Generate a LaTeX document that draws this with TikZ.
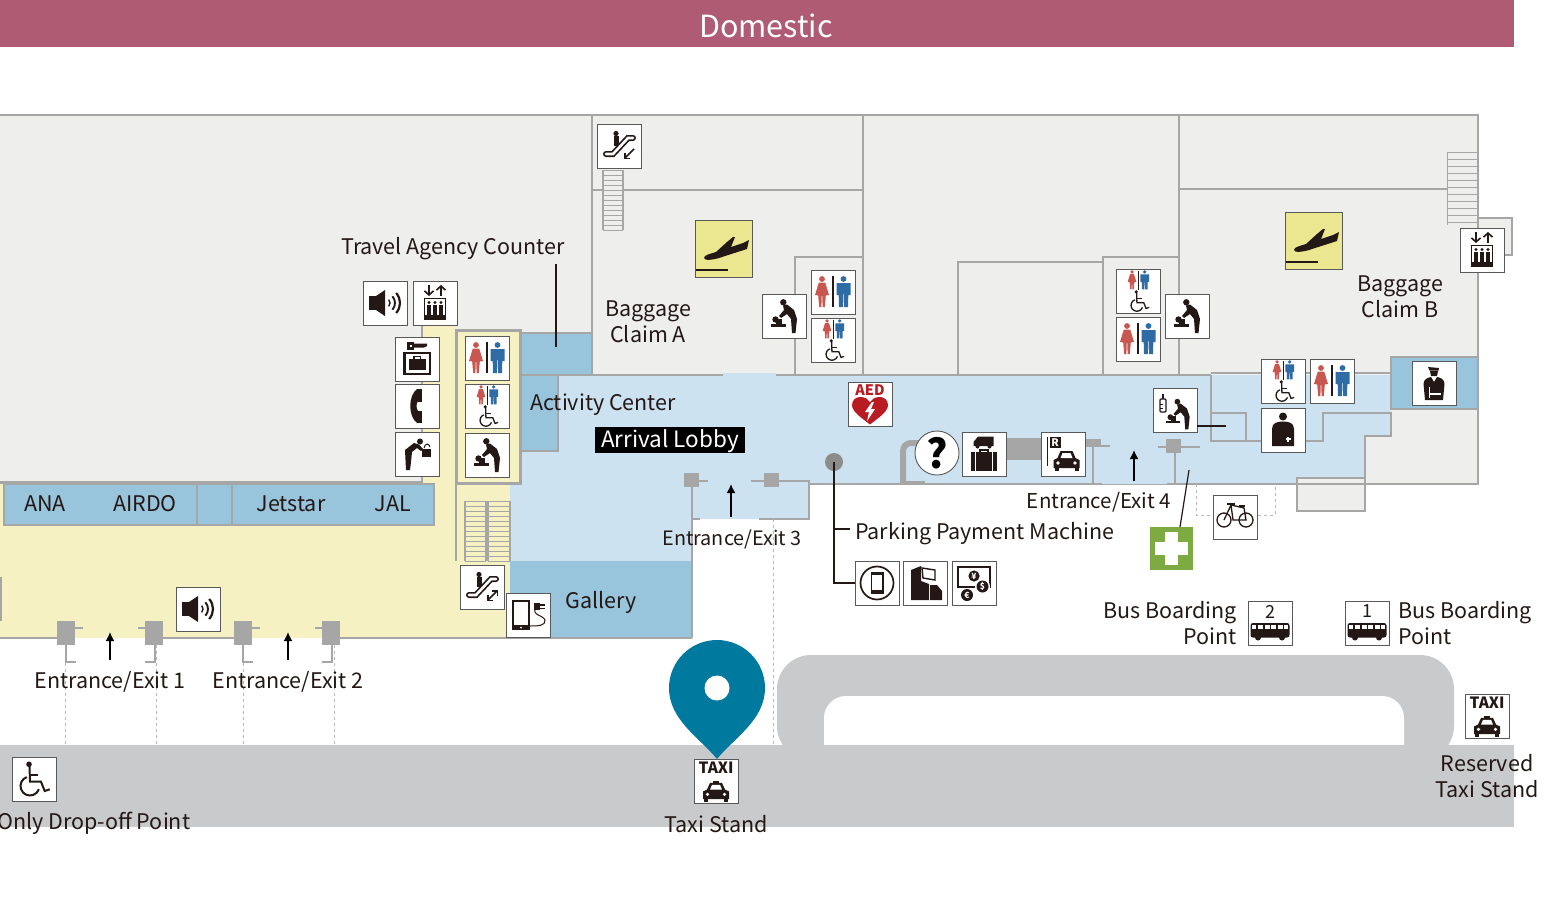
\documentclass[tikz,border=0pt]{standalone}
\usepackage{fontspec}
\setmainfont{Noto Sans CJK JP}
\usetikzlibrary{arrows.meta}
\definecolor{titlerose}{HTML}{AE5B73}
\definecolor{roomgrey}{HTML}{EEEEEC}
\definecolor{wallgrey}{HTML}{A6A6A6}
\definecolor{hallyellow}{HTML}{F5F1C2}
\definecolor{lobbyblue}{HTML}{CCE2F0}
\definecolor{counterblue}{HTML}{98C4DC}
\definecolor{roadgrey}{HTML}{C9CACC}
\definecolor{pinteal}{HTML}{00799E}
\definecolor{aedred}{HTML}{B81C22}
\definecolor{crossgreen}{HTML}{7DAB42}
\definecolor{ladyred}{HTML}{C8584F}
\definecolor{gentblue}{HTML}{2F6BA5}
\definecolor{signyellow}{HTML}{EBE690}
\definecolor{signink}{HTML}{231815}
\tikzset{
  wall/.style={draw=wallgrey,line width=2.4pt},
  thinwall/.style={draw=wallgrey,line width=1.5pt},
  dashline/.style={draw=wallgrey!80,line width=0.8pt,dashed},
  leader/.style={draw=signink,line width=1.2pt},
  exitarrow/.style={draw=black,line width=1.6pt,-{Latex[length=9pt,width=9pt]}},
  signarrow/.style={draw=signink,line width=1.6pt,-{Straight Barb[length=4pt,width=9pt]}},
  place/.style={font=\fontsize{21.5}{26}\selectfont,align=center,inner sep=0pt,text=signink},
  oneline/.style={place,text height=17pt,text depth=2pt},
  iconbox/.style={draw=black!65,line width=0.9pt,fill=white,minimum size=44pt,inner sep=0pt},
  wheelline/.style={line width=2pt},
  ladyfig/.pic={
    \fill[ladyred] (0,-13) circle (2.9);
    \fill[ladyred] (-3.2,-9.5)--(3.2,-9.5)--(7,3)--(3.8,3.5)--(2.8,15)--(0.6,15)--(0.3,4)--(-0.3,4)--(-0.6,15)--(-2.8,15)--(-3.8,3.5)--(-7,3)--cycle;
  },
  gentfig/.pic={
    \fill[gentblue] (0,-13) circle (2.9);
    \fill[gentblue] (-7,-9)--(7,-9)--(7,3)--(5,3)--(5,-4)--(4.5,15)--(0.6,15)--(0.3,2)--(-0.3,2)--(-0.6,15)--(-4.5,15)--(-5,-4)--(-5,3)--(-7,3)--cycle;
  },
  wheelfig/.pic={
    \fill[signink] (-5,-14.7) circle (2.8);
    \draw[signink,wheelline] (-4.5,-13) -- (-4,2.7) -- (7,2.7) -- (10.7,12) -- (15.7,10.3);
    \draw[signink,wheelline] (-4,-4) -- (4,-4);
    \draw[signink,wheelline] (-7.25,-1.93) arc[start angle=250,end angle=20,radius=9.5];
  },
  toiletsign/.pic={
    \pic at (-11,0) {ladyfig};
    \pic at (10.5,0) {gentfig};
    \fill[signink] (-1,-16) rectangle (1,15);
  },
  accesssign/.pic={
    \pic[scale=0.62] at (-6,-11) {ladyfig};
    \pic[scale=0.62] at (6.7,-11) {gentfig};
    \fill[signink] (-0.5,-20) rectangle (0.5,-1);
    \pic[scale=0.62,wheelline/.style={line width=1.3pt}] at (1.4,10) {wheelfig};
  },
  babysign/.pic={
    \fill[signink] (-0.7,-13.7) circle (3.2);
    \fill[signink] (-1,-10.5)--(3,-11.5)--(10,-6)--(13,3)--(11.5,17)--(8,17)--(7,3)--(3,-2)--(-3,2)--(-5,0)--(0,-6)--cycle;
    \fill[signink] (-8.5,3.5) circle (3.2);
    \fill[signink] (-8,2.5) rectangle (-2,7.5);
    \fill[signink] (-13.5,7.5) rectangle (2,10.5);
  },
  bottlesign/.pic={
    \pic[scale=0.9] at (3,4) {babysign};
    \draw[signink,line width=1.2pt,fill=white,rounded corners=1pt] (-15,-11) rectangle (-9,2);
    \fill[signink] (-13,-16) rectangle (-11,-11);
    \fill[signink] (-15,-6) rectangle (-12,-5);
    \fill[signink] (-15,-2) rectangle (-12,-1);
  },
  speakersign/.pic={
    \fill[signink] (-16,-7) rectangle (-9,7);
    \fill[signink] (-9,-7)--(0,-13)--(0,13)--(-9,7)--cycle;
    \foreach \r/\w in {5/1.4,10/1.9,15/2.2} {
      \draw[signink,line width=\w pt] (0,0) ++(-42:\r) arc[start angle=-42,end angle=42,radius=\r];
    }
  },
  liftsign/.pic={
    \draw[signarrow] (-6,-18) -- (-6,-7);
    \draw[signarrow] (6,-7) -- (6,-18);
    \draw[signink,line width=1.8pt] (-10.5,-4.5) rectangle (10.5,16);
    \foreach \x in {-6,0,6} {
      \fill[signink] (\x,-0.5) circle (1.7);
      \fill[signink] (\x-2.4,1.5) rectangle (\x+2.4,12);
    }
    \fill[signink] (-10,12) rectangle (10,16);
  },
  lockersign/.pic={
    \fill[signink] (-10,-17) rectangle (-3,-9.5);
    \fill[signink] (-3,-15.5) -- (10,-15.5) -- (10,-13) -- (7,-11.5) -- (-3,-11.5) -- cycle;
    \fill[white] (-7.5,-14.5) rectangle (-5.5,-12);
    \draw[signink,line width=2.2pt] (-12.5,-6) rectangle (13,15);
    \fill[signink] (-8,0) rectangle (8.5,11);
    \draw[signink,line width=1.2pt] (-3,0) -- (-3,-2.5) -- (3.5,-2.5) -- (3.5,0);
  },
  phonesign/.pic={
    \fill[signink] (0,-17) .. controls (-9,-10) and (-9,10) .. (0,17) -- (1,5) .. controls (-1,2) and (-1,-2) .. (1,-5) -- cycle;
    \fill[signink] (-0.3,-17) rectangle (4.5,-4);
    \fill[signink] (-0.3,5) rectangle (4.5,17);
  },
  fountainsign/.pic={
    \fill[signink] (3,-12.5) circle (3);
    \fill[signink] (-12,-4)--(-3,-11)--(2,-9.5)--(6,-5)--(4,-3)--(0,-6)--(-5,-2)--(-6,8)--(-7,16)--(-11,16)--cycle;
    \fill[signink] (5,-5) rectangle (14,3);
    \draw[signink,line width=1pt] (7,-6) .. controls (8,-11) and (12,-11) .. (13,-7);
  },
  escalatorsign/.pic={
    \fill[signink] (-3,-12.5) circle (2.6);
    \fill[signink] (-5.5,-10) rectangle (0,0);
    \draw[signink,line width=6pt,line cap=round] (-13,8) -- (-6,8) -- (9,-8) -- (14,-8);
    \draw[white,line width=2.6pt,line cap=round] (-13,8) -- (-6,8) -- (9,-8) -- (14,-8);
  },
  escbothsign/.pic={
    \pic {escalatorsign};
    \draw[signink,line width=1.5pt,{Straight Barb[length=4pt,width=8pt]}-{Straight Barb[length=4pt,width=8pt]}] (5,14) -- (16,3);
  },
  escdownsign/.pic={
    \pic {escalatorsign};
    \draw[signink,line width=1.5pt,-{Straight Barb[length=4pt,width=8pt]}] (15,3) -- (5,13);
  },
  chargesign/.pic={
    \draw[signink,line width=2.4pt,fill=white] (-15,-14) rectangle (1,14);
    \fill[signink] (-15,10) rectangle (1,15);
    \fill[white] (-7,12.5) circle (1);
    \draw[signink,line width=1pt] (8,-7) .. controls (3,0) and (15,0) .. (17,5) .. controls (18,11) and (9,11) .. (2,11);
    \fill[signink] (6,-12) rectangle (12,-5);
    \fill[signink] (12,-11) rectangle (17,-9.5);
    \fill[signink] (12,-7.5) rectangle (17,-6);
  },
  arrivalsign/.pic={
    \fill[signink] (-20,9) .. controls (-20,6) and (-14,5) .. (-8,3) -- (3,-7) -- (9,-12) -- (11,-12) -- (7,-2) -- (19,-6) -- (25,-9) -- (23,0) -- (-2,8) .. controls (-10,11) and (-20,12) .. (-20,9) -- cycle;
    \fill[signink] (-28.5,19.5) rectangle (4,22);
  },
  aedsign/.pic={
    \node[font=\bfseries\fontsize{14.5}{15}\selectfont,text=aedred,inner sep=0pt] (aedtext) at (0,-14) {AED};
    \fill[aedred] (0,20.5) .. controls (-8,14) and (-18,8) .. (-18,1) .. controls (-18,-4) and (-14,-7) .. (-10,-7) .. controls (-5,-7) and (-2,-5) .. (0,-2) .. controls (2,-5) and (5,-7) .. (10,-7) .. controls (14,-7) and (18,-4) .. (18,1) .. controls (18,8) and (8,14) .. (0,20.5) -- cycle;
    \fill[white] (2,-2)--(-5,8)--(-1,8)--(-3,17)--(5,5)--(1,5)--(4,-2)--cycle;
  },
  carfig/.pic={
    \fill[signink] (-13,9)--(-13,1)--(-9,-1)--(-6,-8)--(6,-8)--(9,-1)--(13,1)--(13,9)--cycle;
    \fill[white] (-4,-6)--(4,-6)--(6,-1)--(-6,-1)--cycle;
    \fill[signink] (-12,9) rectangle (-8,12);
    \fill[signink] (8,9) rectangle (12,12);
    \fill[white] (-8.5,4) circle (1.8);
    \fill[white] (8.5,4) circle (1.8);
  },
  baggagesign/.pic={
    \fill[signink] (-10.5,-8)--(-10.5,-12)--(-6,-17.5)--(9.5,-17.5)--(9.5,-8)--cycle;
    \fill[signink] (-6.5,-7.5) circle (2);
    \fill[signink] (5.5,-7.5) circle (2);
    \draw[signink,line width=1.4pt] (-4,-0.5) -- (-4,-4) -- (4,-4) -- (4,-0.5);
    \fill[signink] (-13,-2) rectangle (13,17);
    \foreach \x in {-8.5,8.5} {\fill[white] (\x-0.6,-2) rectangle (\x+0.6,17);}
  },
  parkingsign/.pic={
    \fill[signink] (-15.8,-17) rectangle (-14.8,12);
    \fill[signink] (-13.5,-17) rectangle (-2.5,-6.5);
    \node[font=\bfseries\fontsize{10.5}{11}\selectfont,text=white,inner sep=0pt] (parkr) at (-8,-11.7) {R};
    \pic at (3.5,5) {carfig};
  },
  mobilesign/.pic={
    \draw[signink,line width=1.7pt] (0,0) circle (16.5);
    \fill[signink] (-6.5,-11) rectangle (6.5,11);
    \fill[white] (-5,-8.5) rectangle (5,7);
  },
  atmsign/.pic={
    \fill[signink] (-14,-13)--(-4,-17)--(-4,-2)--(4,1)--(4,17)--(-14,17)--cycle;
    \draw[signink,line width=1.4pt] (-3,-15)--(10,-13)--(10,-3)--(-2,-5)--cycle;
    \fill[signink] (5,2)--(12,2)--(17,8)--(17,17)--(5,17)--cycle;
  },
  changesign/.pic={
    \draw[signink,line width=1.7pt] (-16,-16) rectangle (16,4);
    \fill[signink] (0,-7) circle (5.6);
    \fill[white] (8.5,3.5) circle (7.5);
    \fill[signink] (8.5,3.5) circle (6);
    \fill[signink] (-7,12) circle (6);
    \node[font=\bfseries\fontsize{8.5}{9}\selectfont,text=white,inner sep=0pt] (yen) at (0,-7) {¥};
    \node[font=\bfseries\fontsize{8.5}{9}\selectfont,text=white,inner sep=0pt] (dollar) at (8.5,3.5) {\$};
    \node[font=\bfseries\fontsize{8.5}{9}\selectfont,text=white,inner sep=0pt] (euro) at (-7,12) {€};
  },
  aidsign/.pic={
    \fill[signink] (0,-13.5) circle (4);
    \fill[signink] (-11,16) -- (-11,-1) .. controls (-11,-7) and (-6,-8.5) .. (0,-8.5) .. controls (6,-8.5) and (11,-7) .. (11,-1) -- (11,16) -- cycle;
    \fill[white] (2.5,8) rectangle (7.5,10);
    \fill[white] (4,6.5) rectangle (6,11.5);
  },
  guardsign/.pic={
    \fill[signink] (-6,-16) -- (5,-15) -- (4.5,-12.5) -- (-4.5,-12.5) -- cycle;
    \fill[signink] (-4,-12) -- (4,-12) -- (3,-7) -- (-3,-7) -- cycle;
    \fill[signink] (-10.5,1) .. controls (-10.5,-4) and (-6,-5.5) .. (-3,-6) -- (0,-1) -- (3,-6) .. controls (6,-5.5) and (10.5,-4) .. (10.5,1) -- (9,17) -- (-9,17) -- cycle;
    \fill[white] (-5,9.5) rectangle (7,11.5);
    \draw[white,line width=0.6pt] (-5,4) -- (-5,15);
  },
  bikesign/.pic={
    \draw[signink,line width=1.3pt] (-11,3) circle (7);
    \draw[signink,line width=1.3pt] (11,3) circle (7);
    \draw[signink,line width=1.3pt] (-11,3) -- (-4,-12) -- (9,-9) -- (11,3) -- (-2,3) -- (-4,-12);
    \draw[signink,line width=1.3pt] (-8,-13) -- (0,-13);
    \draw[signink,line width=1.3pt] (4,-11) -- (10,-11);
  },
  busfig/.pic={
    \fill[signink,rounded corners=2.5pt] (-19.5,0) rectangle (19.5,14.5);
    \foreach \x in {-12,-5.5,1,7.5} {\fill[white] (\x,1.5) rectangle (\x+5,6);}
    \fill[white] (-18,2) -- (-14,2) -- (-14,6) -- (-18,6) -- cycle;
    \fill[white] (14,2) rectangle (18,6);
    \fill[signink] (-12,14.5) circle (3);
    \fill[signink] (12,14.5) circle (3);
  },
  taxisign/.pic={
    \node[font=\bfseries\fontsize{15.5}{16}\selectfont,text=signink,inner sep=0pt] (taxitext) at (0,-13) {TAXI};
    \fill[signink] (-3,0) rectangle (3,3);
    \pic[yscale=0.95] at (0,9.5) {carfig};
  },
}
\newcommand{\signbox}[4]{\node[iconbox] (#1) at (#2,#3) {}; \pic at (#1) {#4};}
\newcommand{\stairs}[6]{
  \fill[#6] (#1,#2) rectangle (#3,#4);
  \foreach \y in {#2,\the\numexpr#2+#5\relax,...,#4} {\draw[wallgrey,line width=0.9pt] (#1,\y) -- (#3,\y);}
  \draw[wallgrey,line width=1.2pt] (#1,#2) -- (#1,#4) (#3,#2) -- (#3,#4);
}
\begin{document}
\begin{tikzpicture}[x=1pt,y=-1pt]
  \useasboundingbox (0,0) rectangle (1550,900);
  \fill[titlerose] (0,0) rectangle (1514,47);
  \node[font=\fontsize{30.5}{34}\selectfont,text=white,inner sep=0pt] (domestic) at (766,26) {Domestic};
  % road
  \fill[roadgrey] (0,745) rectangle (1514,827);
  \fill[roadgrey,rounded corners=34pt] (777,760) -- (777,655) -- (1454,655) -- (1454,760) -- cycle;
  \fill[white,rounded corners=22pt] (824,770) -- (824,696) -- (1404,696) -- (1404,770) -- cycle;
  \fill[roadgrey] (770,745) rectangle (1460,790);
  % rooms
  \fill[roomgrey] (1478,218) rectangle (1512,255);
  \draw[wall] (1478,218) -- (1512,218) -- (1512,255) -- (1478,255);
  \draw[wall,fill=roomgrey] (-5,115) -- (1478,115) -- (1478,484) -- (-5,484) -- cycle;
  \fill[hallyellow] (423,325) -- (456,325) -- (456,330) -- (520,330) -- (520,484) -- (510,484) -- (510,638) -- (-5,638) -- (-5,484) -- (423,484) -- cycle;
  \fill[lobbyblue] (521,375) -- (1391,375) -- (1391,436) -- (1365,436) -- (1365,484) -- (809,484) -- (809,519) -- (692,519) -- (692,561) -- (510,561) -- (510,484) -- (521,484) -- cycle;
  \fill[counterblue] (510,561) rectangle (692,638);
  \draw[wall,fill=counterblue] (521,333) rectangle (592,375);
  \draw[wall,fill=counterblue] (521,375) rectangle (558,451);
  \draw[wall,fill=counterblue] (4,484) rectangle (434,525);
  \draw[wall] (197,484) -- (197,525) (232,484) -- (232,525);
  \draw[wall,fill=counterblue] (1391,357) rectangle (1478,409);
  \draw[wall,fill=roomgrey] (1297,478) rectangle (1365,511);
  % walls
  \fill[lobbyblue] (723,373) rectangle (776,377);
  \draw[wall] (522,375) -- (723,375) (776,375) -- (1211,375);
  \draw[wall] (592,115) -- (592,333) (863,115) -- (863,375) (1179,115) -- (1179,375);
  \draw[wall] (592,190) -- (863,190) (1179,189) -- (1447,189);
  \draw[wall] (795,375) -- (795,257) -- (863,257);
  \draw[wall] (958,375) -- (958,262) -- (1103,262) (1103,375) -- (1103,257) -- (1179,257);
  \draw[wall] (422,325) -- (422,484) (-5,482) -- (422,482);
  \draw[line width=3pt,draw=wallgrey] (456,330) rectangle (520,483);
  \draw[wall] (456,483) -- (456,561);
  \draw[wall] (1211,375) -- (1211,441) -- (1323,441) -- (1323,413) -- (1391,413) -- (1391,436) -- (1365,436) -- (1365,484);
  \draw[wall] (1211,373) -- (1391,373);
  \draw[wall] (1211,413) -- (1246,413) -- (1246,441);
  \draw[wall] (692,487) -- (692,638) (-5,638) -- (57,638) (163,638) -- (234,638) (340,638) -- (692,638);
  \draw[wall] (779,481) -- (809,481) -- (809,519) -- (759,519) (692,519) -- (700,519);
  \draw[wall] (809,484) -- (1102,484) (1167,484) -- (1365,484);
  \draw[thinwall,fill=white] (-3,578) -- (1,578) -- (1,620) -- (-3,620);
  \stairs{603}{170}{623}{230}{5}{roomgrey}
  \stairs{465}{501}{486}{561}{5}{hallyellow}
  \stairs{488}{501}{510}{561}{5}{hallyellow}
  \draw[wallgrey,line width=0.9pt] (1447,152) -- (1447,225);
  \foreach \y in {152,159,...,222} {\draw[wallgrey,line width=0.9pt] (1447,\y) -- (1478,\y);}
  % dashed lines
  \foreach \x in {65,156,243,334} {\draw[dashline] (\x,645) -- (\x,745);}
  \draw[dashline] (773,519) -- (773,745);
  \draw[dashline] (1196,484) -- (1196,515) -- (1213,515) (1258,515) -- (1275,515) -- (1275,484);
  % doors
  \foreach \a/\b in {66/154,243/331} {
    \fill[wallgrey] (\a-9,621) rectangle (\a+9,645);
    \fill[wallgrey] (\b-9,621) rectangle (\b+9,645);
    \draw[thinwall] (\a+9,628) -- (\a+17,628) (\b-16,628) -- (\b-9,628);
    \draw[thinwall] (\a,645) -- (\a,662) -- (\a+10,662);
    \draw[thinwall] (\b+1,645) -- (\b+1,662) -- (\b-9,662);
  }
  \fill[wallgrey] (684,473) rectangle (699,487);
  \fill[wallgrey] (764,473) rectangle (779,487);
  \draw[thinwall] (699,481) -- (708,481) (751,481) -- (764,481);
  \fill[wallgrey] (1166,439) rectangle (1181,453);
  \draw[thinwall] (1101,446) -- (1110,446) (1158,447) -- (1200,447);
  \draw[wall] (1093,447) -- (1093,484) (1175,453) -- (1175,484);
  % info counter
  \draw[draw=wallgrey,line width=6pt,rounded corners=8pt] (903,484) -- (903,443) -- (930,443);
  \fill[wallgrey] (901,481) rectangle (925,485);
  \fill[wallgrey] (1000,438) rectangle (1045,460);
  \fill[wallgrey] (1080,439) rectangle (1101,447);
  % signs
  \signbox{speakerA}{385}{303}{speakersign}
  \signbox{liftA}{435}{303}{liftsign}
  \signbox{locker}{417}{359}{lockersign}
  \signbox{telephone}{417}{406}{phonesign}
  \signbox{fountain}{417}{454}{fountainsign}
  \signbox{toiletA}{487}{358}{toiletsign}
  \signbox{accessA}{487}{406}{accesssign}
  \signbox{babyA}{487}{455}{babysign}
  \signbox{escalatorA}{482}{587}{escbothsign}
  \signbox{charging}{528}{615}{chargesign}
  \signbox{speakerB}{198}{609}{speakersign}
  \signbox{escalatorB}{619}{146}{escdownsign}
  \signbox{babyB}{784}{316}{babysign}
  \signbox{toiletB}{833}{292}{toiletsign}
  \signbox{accessB}{833}{340}{accesssign}
  \signbox{accessC}{1138}{291}{accesssign}
  \signbox{toiletC}{1138}{339}{toiletsign}
  \signbox{babyC}{1187}{316}{babysign}
  \signbox{babybottle}{1175}{410}{bottlesign}
  \signbox{accessD}{1283}{381}{accesssign}
  \signbox{toiletD}{1332}{381}{toiletsign}
  \signbox{firstaid}{1283}{430}{aidsign}
  \signbox{guard}{1434}{383}{guardsign}
  \signbox{liftB}{1482}{250}{liftsign}
  \signbox{aed}{870}{404}{aedsign}
  \signbox{baggage}{984}{454}{baggagesign}
  \signbox{parking}{1063}{454}{parkingsign}
  \signbox{mobilepay}{877}{583}{mobilesign}
  \signbox{paymachine}{925}{583}{atmsign}
  \signbox{exchange}{974}{583}{changesign}
  \signbox{bicycle}{1235}{517}{bikesign}
  \signbox{taxiA}{716}{781}{taxisign}
  \signbox{taxiB}{1487}{716}{taxisign}
  \signbox{dropoff}{34}{779}{wheelfig}
  \node[iconbox,fill=signyellow,minimum size=57pt] (arrivalA) at (724,249) {};
  \pic at (arrivalA) {arrivalsign};
  \node[iconbox,fill=signyellow,minimum size=57pt] (arrivalB) at (1314,241) {};
  \pic at (arrivalB) {arrivalsign};
  \node[iconbox,circle,minimum size=44pt,font=\bfseries\fontsize{40}{40}\selectfont] (infodesk) at (937,453) {?};
  \signbox{busB}{1270}{623}{busfig}
  \node[font=\fontsize{18}{18}\selectfont,inner sep=0pt,text=signink] (busBnum) at (1270,611.5) {2};
  \signbox{busA}{1367}{623}{busfig}
  \node[font=\fontsize{18}{18}\selectfont,inner sep=0pt,text=signink] (busAnum) at (1367,611.5) {1};
  \node[minimum size=43pt,inner sep=0pt,fill=crossgreen] (greencross) at (1171,548) {};
  \fill[white] (1155,542) rectangle (1188,555);
  \fill[white] (1165,532) rectangle (1178,565);
  % map pin
  \fill[pinteal] (717,759) .. controls (700,738) and (669,720) .. (669,688) .. controls (669,661.5) and (690.5,640) .. (717,640) .. controls (743.5,640) and (765,661.5) .. (765,688) .. controls (765,720) and (734,738) .. (717,759) -- cycle;
  \fill[white] (717,688) circle (12.5);
  % labels
  \node[oneline] (travel) at (453,247) {Travel Agency Counter};
  \node[place] (claimA) at (648,322) {Baggage\\Claim A};
  \node[place] (claimB) at (1400,297) {Baggage\\Claim B};
  \node[oneline] (activity) at (603,403) {Activity Center};
  \node[oneline,font=\fontsize{22.5}{26}\selectfont,fill=black,text=white,minimum width=150pt,minimum height=26pt] (lobby) at (670,440) {Arrival Lobby};
  \foreach \nam/\x in {ANA/45,AIRDO/145,Jetstar/291,JAL/393} {
    \node[oneline] (\nam) at (\x,504) {\nam};
  }
  \node[oneline] (gallery) at (601,601) {Gallery};
  \node[oneline] (exitA) at (110,681) {Entrance/Exit 1};
  \node[oneline] (exitB) at (288,681) {Entrance/Exit 2};
  \node[oneline,font=\fontsize{19.8}{26}\selectfont] (exitC) at (732,538) {Entrance/Exit 3};
  \node[oneline,font=\fontsize{20.5}{26}\selectfont] (exitD) at (1099,501) {Entrance/Exit 4};
  \node[oneline,anchor=west] (paylabel) at (855,532) {Parking Payment Machine};
  \node[place,anchor=east,align=right] (busBlabel) at (1237,623) {Bus Boarding\\Point};
  \node[place,anchor=west,align=left] (busAlabel) at (1398,623) {Bus Boarding\\Point};
  \node[place] (reserved) at (1487,776) {Reserved\\Taxi Stand};
  \node[oneline,anchor=west] (droplabel) at (-3,822) {Only Drop-off Point};
  \node[oneline] (taxilabel) at (716,825) {Taxi Stand};
  % leaders
  \coordinate (travelend) at (556,264);
  \coordinate (travelfoot) at (556,347);
  \draw[leader] (travelend) -- (travelfoot);
  \node[circle,fill=black!45,minimum size=18pt,inner sep=0pt] (paydot) at (834,462) {};
  \draw[leader] (paydot.center) |- (mobilepay.west);
  \coordinate (paystub) at (834,529);
  \coordinate (payend) at (850,529);
  \draw[leader] (paystub) -- (payend);
  \coordinate (bottleend) at (1226,426);
  \draw[leader] (babybottle.east |- bottleend) -- (bottleend);
  \coordinate (crosstop) at (1180,527);
  \coordinate (crossend) at (1189,470);
  \draw[leader] (crossend) -- (crosstop);
  % arrows
  \foreach [count=\i] \x/\ya/\yb in {110/660/632,288/660/632,731/517/484,1134/481/450} {
    \coordinate (tail\i) at (\x,\ya);
    \coordinate (tip\i) at (\x,\yb);
    \draw[exitarrow] (tail\i) -- (tip\i);
  }
\end{tikzpicture}
\end{document}
